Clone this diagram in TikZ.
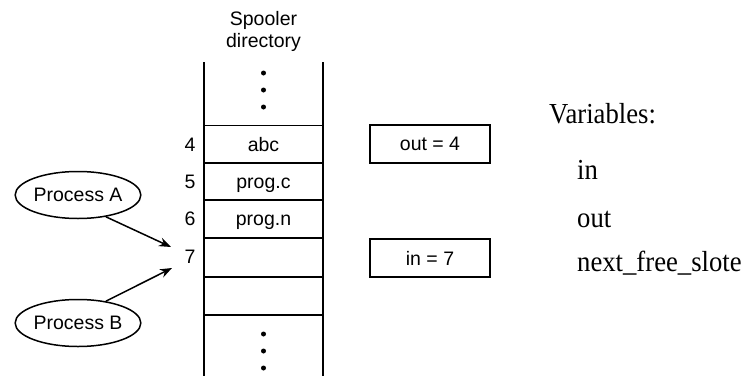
\documentclass[tikz,border=0pt]{standalone}
\usepackage{fontspec}
\setmainfont{Liberation Serif}
\setsansfont{Liberation Sans}
\newfontfamily\varfont[FakeStretch=0.92]{Liberation Serif}
\usetikzlibrary{shapes.geometric,arrows.meta}
\begin{document}
\begin{tikzpicture}[x=1pt,y=-1pt,
  sf/.style={font=\sffamily\fontsize{19.5}{22}\selectfont},
  lbl/.style={sf, inner sep=0pt},
  cell/.style={sf, draw, line width=1.6pt, minimum width=119pt, minimum height=37.8pt, inner sep=0pt, text height=17pt, text depth=4pt},
  varbox/.style={sf, draw, line width=1.6pt, minimum width=120pt, minimum height=38pt, inner sep=0pt},
  proc/.style={sf, draw, ellipse, line width=1.5pt, minimum width=125pt, minimum height=47pt, inner sep=0pt},
  arr/.style={line width=1.5pt, -{Stealth[length=12pt,width=9pt]}},
  dot/.style={circle, fill, inner sep=0pt, minimum size=5pt},
  var/.style={font=\varfont\fontsize{29}{33}\selectfont, anchor=west, inner sep=0pt}]
\useasboundingbox (0,0) rectangle (744,375);
% column sides
\coordinate (ctl) at (204,62);
\coordinate (cbl) at (204,376);
\coordinate (ctr) at (323,62);
\coordinate (cbr) at (323,376);
\draw[line width=1.6pt] (ctl) -- (cbl);
\draw[line width=1.6pt] (ctr) -- (cbr);
% title
\node[lbl, align=center] (title) at (263.5,31) {Spooler\\directory};
% cells
\node[cell] (c4) at (263.5,144.5) {abc};
\node[cell] (c5) at (263.5,181.5) {prog.c};
\node[cell] (c6) at (263.5,219) {prog.n};
\node[cell] (c7) at (263.5,257.5) {};
\node[cell] (c8) at (263.5,296) {};
% dots
\node[dot] (d1) at (263.5,73) {};
\node[dot] (d2) at (263.5,90) {};
\node[dot] (d3) at (263.5,107) {};
\node[dot] (d4) at (263.5,334) {};
\node[dot] (d5) at (263.5,351) {};
\node[dot] (d6) at (263.5,368) {};
% indices
\node[lbl] (n4) at (190,145) {4};
\node[lbl] (n5) at (190,182) {5};
\node[lbl] (n6) at (190,219) {6};
\node[lbl] (n7) at (190,257) {7};
% processes
\node[proc] (pa) at (78,195) {Process A};
\node[proc] (pb) at (78,323) {Process B};
\coordinate (ta) at (171,247);
\coordinate (tb) at (172,268);
\draw[arr] (pa.-38) -- (ta);
\draw[arr] (pb.38) -- (tb);
% variable boxes
\node[varbox] (out) at (430,144) {out = 4};
\node[varbox] (in) at (430,258) {in = 7};
% variables list
\node[var] (vars) at (549,114) {Variables:};
\node[var] (vin) at (577,170) {in};
\node[var] (vout) at (577,219) {out};
\node[var] (vnext) at (577,263) {next\_free\_slote};
\end{tikzpicture}
\end{document}
